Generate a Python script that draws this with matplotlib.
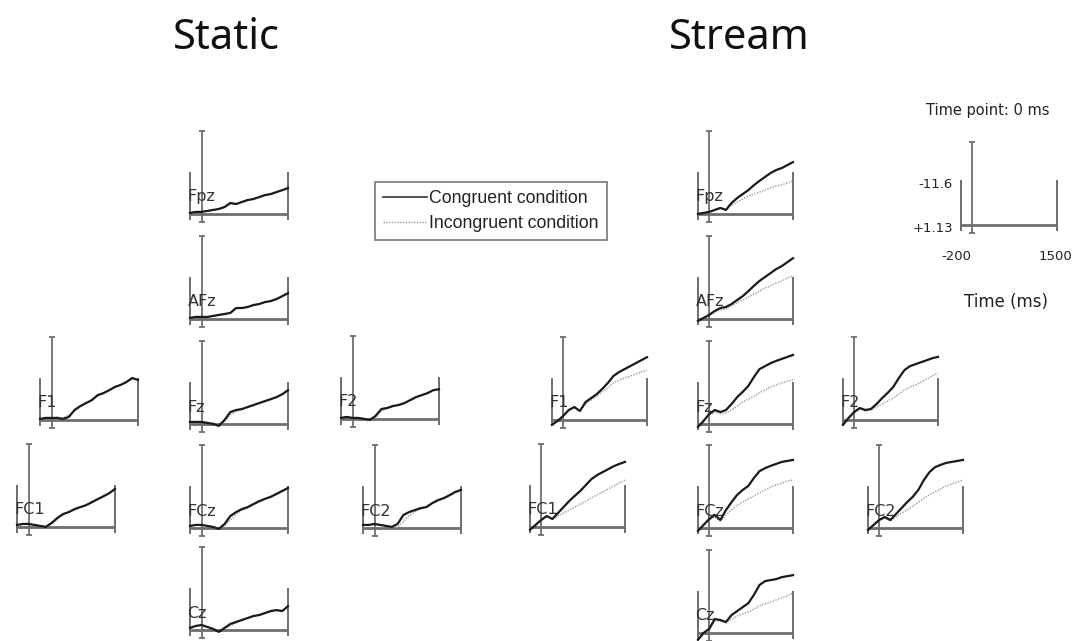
import matplotlib
matplotlib.use('Agg')
import matplotlib.pyplot as plt
from matplotlib.lines import Line2D

# ---------------- data (µV, negative plotted up) ----------------
times = [-200, -100, 0, 100, 200, 300, 400, 500, 600, 700, 800, 900, 1000, 1100, 1200, 1300, 1400, 1500]
electrodes = ['Fpz', 'AFz', 'F1', 'Fz', 'F2', 'FC1', 'FCz', 'FC2', 'Cz']

static_Fpz_cong = [0.8, 0.5, 0.5, 0.2, -0.1, -0.4, -1.0, -2.2, -1.9, -2.5, -3.1, -3.4, -4.0, -4.6, -4.9, -5.5, -6.1, -6.7]
static_Fpz_inc = [0.9, 0.6, 0.4, 0.3, 0.0, -0.3, -0.8, -2.0, -1.7, -2.6, -3.0, -3.6, -3.9, -4.4, -5.0, -5.6, -6.0, -6.9]
static_AFz_cong = [0.8, 0.5, 0.5, 0.5, 0.2, -0.1, -0.4, -0.7, -2.2, -2.2, -2.5, -3.1, -3.4, -4.0, -4.3, -4.9, -5.8, -6.7]
static_AFz_inc = [0.9, 0.6, 0.4, 0.6, 0.3, 0.0, -0.2, -0.9, -2.0, -2.1, -2.7, -3.0, -3.5, -3.8, -4.4, -5.0, -5.6, -6.5]
static_F1_cong = [0.8, 0.5, 0.5, 0.5, 0.8, 0.2, -1.9, -3.1, -4.0, -4.9, -6.4, -7.0, -7.9, -8.9, -9.5, -10.4, -11.6, -11.0]
static_F1_inc = [0.9, 0.4, 0.6, 0.3, 0.5, -0.3, -1.6, -2.9, -4.1, -5.0, -6.2, -7.2, -7.8, -9.0, -9.6, -10.2, -11.3, -11.2]
static_Fz_cong = [0.5, 0.5, 0.5, 0.8, 1.1, 1.7, -0.1, -2.5, -3.1, -3.4, -4.0, -4.6, -5.2, -5.8, -6.4, -7.0, -7.9, -9.1]
static_Fz_inc = [0.6, 0.4, 0.6, 0.7, 0.9, 1.4, 0.4, -1.6, -2.6, -3.3, -4.1, -4.5, -5.4, -5.9, -6.2, -7.2, -7.8, -8.9]
static_F2_cong = [0.8, 0.5, 0.8, 0.8, 1.1, 1.4, 0.2, -1.9, -2.2, -2.8, -3.1, -3.7, -4.6, -5.5, -6.1, -6.7, -7.6, -7.9]
static_F2_inc = [0.7, 0.6, 0.7, 0.9, 1.0, 1.2, 0.6, -1.2, -2.0, -2.6, -3.3, -3.6, -4.4, -5.3, -6.2, -6.8, -7.4, -8.1]
static_FC1_cong = [0.5, 0.2, 0.2, 0.5, 0.8, 1.1, -0.1, -1.6, -2.8, -3.4, -4.3, -4.9, -5.5, -6.4, -7.3, -8.2, -9.1, -10.4]
static_FC1_inc = [0.6, 0.3, 0.0, 0.4, 0.9, 1.0, 0.3, -1.2, -2.5, -3.5, -4.1, -5.0, -5.6, -6.2, -7.4, -8.0, -9.2, -10.1]
static_FCz_cong = [0.5, 0.2, 0.2, 0.5, 0.8, 1.4, -0.1, -2.5, -3.7, -4.6, -5.2, -6.1, -7.0, -7.7, -8.3, -9.2, -10.1, -11.0]
static_FCz_inc = [0.6, 0.1, 0.3, 0.4, 0.9, 1.2, 0.6, -1.3, -3.0, -4.2, -5.0, -5.9, -6.8, -7.6, -8.4, -9.0, -9.9, -10.8]
static_FC2_cong = [0.2, 0.2, -0.1, 0.2, 0.5, 0.8, -0.1, -2.8, -3.7, -4.3, -4.9, -5.2, -6.4, -7.3, -7.9, -8.8, -9.8, -10.4]
static_FC2_inc = [0.3, 0.1, 0.0, 0.3, 0.6, 1.0, 0.9, -0.8, -2.6, -3.8, -4.6, -5.4, -6.2, -7.1, -8.0, -8.6, -9.5, -10.2]
static_Cz_cong = [0.5, -0.1, -0.4, 0.2, 0.8, 1.7, 0.5, -0.7, -1.3, -1.9, -2.5, -3.1, -3.4, -4.0, -4.6, -4.9, -4.6, -6.1]
static_Cz_inc = [0.6, 0.0, -0.2, 0.3, 0.7, 1.4, 0.9, -0.2, -1.0, -1.8, -2.6, -3.0, -3.5, -3.9, -4.4, -5.0, -4.8, -5.9]

stream_Fpz_cong = [1.1, 0.8, 0.5, -0.1, -0.7, -0.1, -2.2, -3.7, -4.9, -6.1, -7.6, -8.9, -10.1, -11.3, -12.2, -12.8, -13.7, -14.6]
stream_Fpz_inc = [1.1, 0.8, 0.5, -0.1, -0.7, -0.4, -1.6, -2.5, -3.4, -4.3, -4.9, -5.5, -6.1, -6.8, -7.4, -7.7, -8.3, -8.9]
stream_AFz_cong = [1.7, 0.8, -0.1, -1.3, -2.2, -2.5, -3.4, -4.6, -5.8, -7.3, -8.9, -10.4, -11.6, -12.8, -14.0, -14.9, -16.1, -17.3]
stream_AFz_inc = [1.7, 0.8, -0.1, -1.0, -1.6, -1.9, -2.8, -3.7, -4.6, -5.5, -6.4, -7.3, -8.3, -8.9, -9.8, -10.4, -11.3, -11.9]
stream_F1_cong = [2.6, 1.4, -0.1, -1.9, -2.8, -1.6, -4.3, -5.5, -6.7, -8.3, -10.1, -12.2, -13.4, -14.3, -15.2, -16.1, -17.0, -17.9]
stream_F1_inc = [2.6, 1.4, -0.1, -1.9, -2.5, -1.6, -3.7, -4.9, -6.1, -7.3, -8.6, -10.1, -11.0, -11.6, -12.2, -12.8, -13.4, -14.0]
stream_Fz_cong = [2.0, 0.2, -1.9, -3.1, -2.5, -3.1, -4.9, -7.0, -8.6, -10.4, -13.1, -15.5, -16.4, -17.3, -18.0, -18.6, -19.2, -19.8]
stream_Fz_inc = [2.0, 0.2, -1.6, -2.5, -1.9, -2.2, -3.1, -4.3, -5.5, -6.4, -7.3, -8.3, -9.2, -10.1, -10.7, -11.3, -11.9, -12.2]
stream_F2_cong = [2.6, 0.5, -1.3, -2.5, -1.9, -2.2, -3.7, -5.5, -7.1, -8.9, -11.6, -14.0, -15.2, -15.8, -16.4, -17.0, -17.6, -18.0]
stream_F2_inc = [2.6, 0.5, -1.0, -2.2, -1.6, -1.9, -2.8, -3.7, -4.6, -5.5, -6.7, -8.0, -8.9, -9.5, -10.4, -11.3, -12.2, -13.1]
stream_FC1_cong = [2.0, 0.5, -1.0, -2.2, -1.3, -3.1, -4.9, -6.7, -8.3, -9.8, -11.6, -13.4, -14.6, -15.5, -16.4, -17.3, -18.0, -18.6]
stream_FC1_inc = [2.0, 0.5, -1.0, -1.9, -1.3, -2.2, -3.1, -4.0, -4.9, -5.8, -6.7, -7.7, -8.6, -9.5, -10.4, -11.3, -12.2, -13.1]
stream_FCz_cong = [2.0, 0.2, -1.6, -2.8, -1.3, -4.3, -6.7, -8.9, -10.4, -11.6, -14.0, -16.1, -17.0, -17.7, -18.3, -18.9, -19.2, -19.5]
stream_FCz_inc = [2.0, 0.2, -1.3, -2.2, -1.0, -2.8, -4.3, -5.8, -6.7, -7.7, -8.6, -9.5, -10.4, -11.3, -11.9, -12.5, -13.1, -13.4]
stream_FC2_cong = [1.7, 0.2, -1.3, -2.2, -1.3, -3.1, -4.9, -6.7, -8.3, -10.4, -13.4, -15.8, -17.3, -18.0, -18.6, -18.9, -19.2, -19.5]
stream_FC2_inc = [1.7, 0.2, -1.0, -1.9, -1.0, -2.2, -3.4, -4.3, -5.5, -6.7, -7.9, -8.9, -9.8, -10.7, -11.6, -12.2, -12.8, -13.4]
stream_Cz_cong = [3.2, 1.1, -0.1, -3.1, -2.8, -2.2, -4.3, -5.5, -6.7, -7.9, -10.4, -13.4, -14.6, -14.9, -15.2, -15.8, -16.1, -16.4]
stream_Cz_inc = [3.2, 1.1, -0.1, -2.5, -2.5, -1.9, -3.1, -4.0, -4.6, -5.2, -6.1, -7.1, -7.7, -8.3, -8.9, -9.5, -10.1, -11.0]

scale_top = -11.6
scale_bottom = 1.13
time_start, time_end = -200, 1500

# ---------------- layout (pixels in the 1078x641 image) ----------------
W, H = 1078, 641
PX_PER_UV = 3.3
YBOT, YTOP = 3.8, -24.5
AX_COL = '#6e6e6e'

static_pos = {'Fpz': (190, 214), 'AFz': (190, 319), 'F1': (40, 420), 'Fz': (190, 424),
              'F2': (341, 419), 'FC1': (17, 527), 'FCz': (190, 528), 'FC2': (363, 528),
              'Cz': (190, 630)}
stream_pos = {'Fpz': (698, 214), 'AFz': (698, 319), 'F1': (552, 420), 'Fz': (698, 424),
              'F2': (843, 420), 'FC1': (530, 527), 'FCz': (698, 528), 'FC2': (868, 528),
              'Cz': (698, 633)}

data = {}
g = globals()
for cond in ('static', 'stream'):
    for e in electrodes:
        data[(cond, e)] = (g[f'{cond}_{e}_cong'], g[f'{cond}_{e}_inc'])

fig = plt.figure(figsize=(W / 100, H / 100), dpi=100)
fig.patch.set_facecolor('white')


def add_panel(xl, base_y, width, px_per_uv=PX_PER_UV):
    bottom_px = base_y + (YBOT - scale_bottom) * px_per_uv
    top_px = base_y - (scale_bottom - YTOP) * px_per_uv
    ax = fig.add_axes([xl / W, 1 - bottom_px / H, width / W, (bottom_px - top_px) / H])
    ax.set_xlim(time_start, time_end)
    ax.set_ylim(YBOT, YTOP)
    ax.axis('off')
    kw = dict(color=AX_COL, clip_on=False, solid_capstyle='butt')
    ax.plot([time_start, time_end], [scale_bottom, scale_bottom], lw=2.0, **kw)
    bar_low = scale_bottom + 6 / px_per_uv
    ax.plot([time_start, time_start], [bar_low, scale_top], lw=1.4, **kw)
    ax.plot([time_end, time_end], [bar_low, scale_top], lw=1.4, **kw)
    ax_low = scale_bottom + 8 / px_per_uv
    ax_top = scale_bottom - 83 / px_per_uv
    ax.plot([0, 0], [ax_low, ax_top], lw=1.3, **kw)
    ax.plot([0, 0], [ax_low, ax_top], ls='none', marker='_', ms=4, mew=1.3,
            color=AX_COL, clip_on=False)
    return ax


for cond, pos, width in (('static', static_pos, 98), ('stream', stream_pos, 95)):
    for e in electrodes:
        xl, by = pos[e]
        ax = add_panel(xl, by, width)
        cong, inc = data[(cond, e)]
        ax.plot(times, inc, color='#9a9a9a', lw=1.0, ls=(0, (1, 1)), clip_on=False)
        ax.plot(times, cong, color='#1a1a1a', lw=1.6, clip_on=False)
        ax.text(time_start - 45, scale_bottom - 17 / PX_PER_UV, e, ha='left', va='center',
                fontsize=11.5, color='#333333', family='DejaVu Sans')

# titles
fig.text(226 / W, 1 - 38 / H, 'Static', ha='center', va='center', fontsize=30,
         family='Noto Sans', color='#111111')
fig.text(739 / W, 1 - 38 / H, 'Stream', ha='center', va='center', fontsize=30,
         family='Noto Sans', color='#111111')

# legend
handles = [Line2D([], [], color='#333333', lw=1.2),
           Line2D([], [], color='#9a9a9a', lw=1.0, ls=(0, (1, 1)))]
leg = fig.legend(handles, ['Congruent condition', 'Incongruent condition'],
                 loc='upper left', bbox_to_anchor=(375 / W, 1 - 182 / H),
                 frameon=True, fancybox=False, handlelength=2.5, handletextpad=0.1,
                 borderpad=0.45, labelspacing=0.45, borderaxespad=0,
                 prop={'family': 'Liberation Sans', 'size': 12.8})
leg.get_frame().set_edgecolor('#555555')
leg.get_frame().set_linewidth(1.2)
for t in leg.get_texts():
    t.set_color('#222222')

# scale inset
ins = add_panel(961, 225, 96, px_per_uv=45 / (scale_bottom - scale_top))
fig.text(988 / W, 1 - 110 / H, 'Time point: 0 ms', ha='center', va='center',
         fontsize=10.5, family='DejaVu Sans', color='#222222')
fig.text(953 / W, 1 - 184 / H, f'{scale_top:g}', ha='right', va='center',
         fontsize=9.5, family='DejaVu Sans', color='#222222')
fig.text(953 / W, 1 - 228 / H, f'+{scale_bottom:g}', ha='right', va='center',
         fontsize=9.5, family='DejaVu Sans', color='#222222')
fig.text(956 / W, 1 - 257 / H, f'{time_start}', ha='center', va='center',
         fontsize=9.5, family='DejaVu Sans', color='#222222')
fig.text(1055 / W, 1 - 257 / H, f'{time_end}', ha='center', va='center',
         fontsize=9.5, family='DejaVu Sans', color='#222222')
fig.text(1006 / W, 1 - 302 / H, 'Time (ms)', ha='center', va='center',
         fontsize=12, family='DejaVu Sans', color='#222222')

fig.savefig('out.png', dpi=100, facecolor='white')
